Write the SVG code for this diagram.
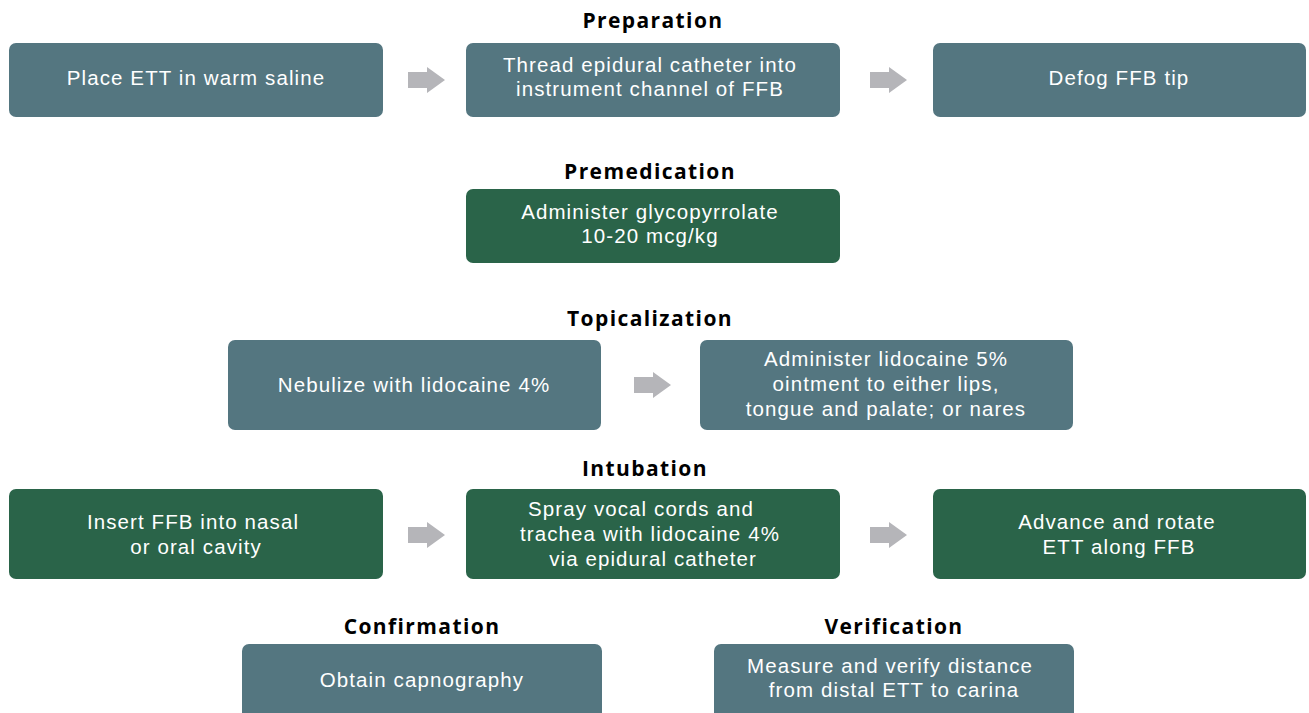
<svg xmlns="http://www.w3.org/2000/svg" width="1309" height="713" viewBox="0 0 1309 713">
<style>
.s{fill:#547680}.g{fill:#2a6449}
.t{font-family:"Liberation Sans",Arial,sans-serif;font-size:20.5px;letter-spacing:1.1px;fill:#ffffff;text-anchor:middle}
.h{font-family:"Open Sans","Liberation Sans",Arial,sans-serif;font-size:21px;font-weight:bold;letter-spacing:1.4px;fill:#000;text-anchor:middle}
.a{fill:#b5b5b9}
</style>
<defs>
<path id="arr" d="M0,-8 H19 V-13 L37,0 L19,13 V8 H0 Z"/>
</defs>
<rect width="1309" height="713" fill="#fff"/>
<text class="h" x="653" y="28">Preparation</text>
<text class="h" x="650" y="179">Premedication</text>
<text class="h" x="650" y="326">Topicalization</text>
<text class="h" x="645" y="476">Intubation</text>
<text class="h" x="422" y="634">Confirmation</text>
<text class="h" x="894" y="634">Verification</text>
<g id="n1"><rect class="s" x="9" y="43" width="374" height="74" rx="7"/><text class="t" x="196" y="85">Place ETT in warm saline</text></g>
<g id="n2"><rect class="s" x="466" y="43" width="374" height="74" rx="7"/><text class="t" x="650" y="72">Thread epidural catheter into</text><text class="t" x="650" y="96">instrument channel of FFB</text></g>
<g id="n3"><rect class="s" x="933" y="43" width="373" height="74" rx="7"/><text class="t" x="1119" y="85">Defog FFB tip</text></g>
<g id="n4"><rect class="g" x="466" y="189" width="374" height="74" rx="7"/><text class="t" x="650" y="219">Administer glycopyrrolate</text><text class="t" x="650" y="243">10-20 mcg/kg</text></g>
<g id="n5"><rect class="s" x="228" y="340" width="373" height="90" rx="7"/><text class="t" x="414" y="392">Nebulize with lidocaine 4%</text></g>
<g id="n6"><rect class="s" x="700" y="340" width="373" height="90" rx="7"/><text class="t" x="886" y="366">Administer lidocaine 5%</text><text class="t" x="886" y="391">ointment to either lips,</text><text class="t" x="886" y="416">tongue and palate; or nares</text></g>
<g id="n7"><rect class="g" x="9" y="489" width="374" height="90" rx="7"/><text class="t" x="193" y="529">Insert FFB into nasal</text><text class="t" x="196" y="554">or oral cavity</text></g>
<g id="n8"><rect class="g" x="466" y="489" width="374" height="90" rx="7"/><text class="t" x="641" y="516">Spray vocal cords and</text><text class="t" x="650" y="541">trachea with lidocaine 4%</text><text class="t" x="653" y="566">via epidural catheter</text></g>
<g id="n9"><rect class="g" x="933" y="489" width="373" height="90" rx="7"/><text class="t" x="1117" y="529">Advance and rotate</text><text class="t" x="1119" y="554">ETT along FFB</text></g>
<g id="n10"><rect class="s" x="242" y="644" width="360" height="80" rx="7"/><text class="t" x="422" y="687">Obtain capnography</text></g>
<g id="n11"><rect class="s" x="714" y="644" width="360" height="80" rx="7"/><text class="t" x="890" y="673">Measure and verify distance</text><text class="t" x="894" y="697">from distal ETT to carina</text></g>
<g id="connectors">
<use href="#arr" class="a" x="408" y="80"/>
<use href="#arr" class="a" x="870" y="80"/>
<use href="#arr" class="a" x="634" y="385"/>
<use href="#arr" class="a" x="408" y="535"/>
<use href="#arr" class="a" x="870" y="535"/>
</g>
</svg>
